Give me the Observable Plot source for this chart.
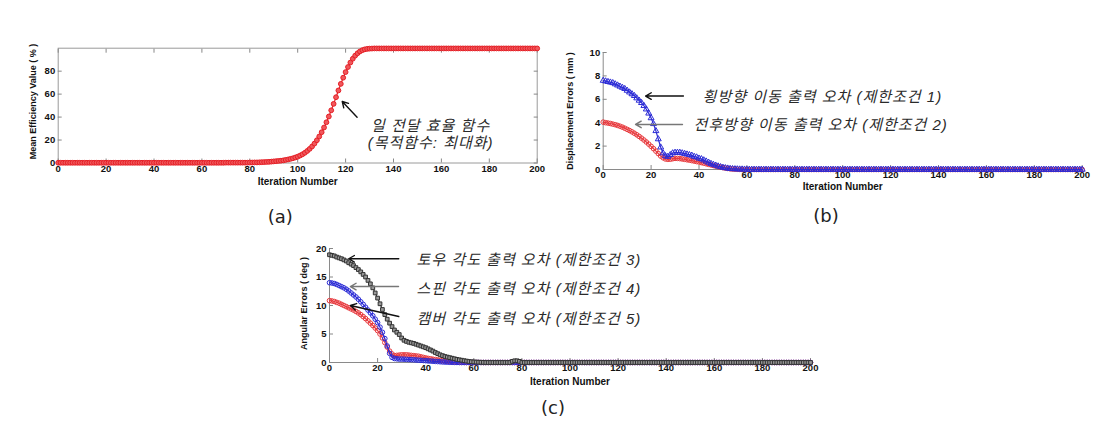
<!DOCTYPE html>
<html><head><meta charset="utf-8">
<script src="https://cdn.jsdelivr.net/npm/d3@7"></script>
<script src="https://cdn.jsdelivr.net/npm/@observablehq/plot@0.6"></script>
<style>
body{margin:0;background:#fff;}
#wrap{position:relative;width:1114px;height:424px;overflow:hidden;background:#fff;}
.cap{position:absolute;font-family:"DejaVu Sans",sans-serif;font-size:18px;color:#222;transform:translate(-50%,-50%);line-height:1;}
</style></head><body><div id="wrap"></div>
<script>
// ---------- data ----------
const iterations = d3.range(0, 201);
const xTicks = [0,20,40,60,80,100,120,140,160,180,200];
const yTicksA = [0,20,40,60,80];
const yTicksB = [0,2,4,6,8,10];
const yTicksC = [0,5,10,15,20];

// (a) mean efficiency (%)
const efficiency = [
0.2,0.2,0.2,0.2,0.2,0.2,0.2,0.2,0.2,0.2,
0.2,0.2,0.2,0.2,0.2,0.2,0.2,0.2,0.2,0.2,
0.2,0.2,0.2,0.2,0.2,0.2,0.2,0.2,0.2,0.2,
0.2,0.2,0.2,0.2,0.2,0.2,0.2,0.2,0.2,0.2,
0.2,0.2,0.2,0.2,0.2,0.2,0.2,0.2,0.2,0.2,
0.2,0.2,0.2,0.2,0.2,0.2,0.2,0.2,0.2,0.2,
0.2,0.2,0.2,0.2,0.2,0.2,0.2,0.2,0.2,0.2,
0.3,0.3,0.3,0.3,0.3,0.3,0.3,0.3,0.3,0.3,
0.4,0.4,0.5,0.5,0.6,0.7,0.8,0.9,1.0,1.2,
1.4,1.6,1.8,2.0,2.3,2.7,3.1,3.6,4.1,4.8,
5.5,6.5,7.6,8.9,10.5,12.3,14.4,16.9,19.8,23.1,
26.8,30.9,35.5,40.5,45.9,51.5,57.3,63.2,68.9,74.3,
79.2,83.6,87.5,90.8,93.5,95.6,97.2,98.3,99.0,99.4,
99.6,99.7,99.8,99.8,99.8,99.8,99.8,99.8,99.8,99.8,
99.8,99.8,99.8,99.8,99.8,99.8,99.8,99.8,99.8,99.8,
99.8,99.8,99.8,99.8,99.8,99.8,99.8,99.8,99.8,99.8,
99.8,99.8,99.8,99.8,99.8,99.8,99.8,99.8,99.8,99.8,
99.8,99.8,99.8,99.8,99.8,99.8,99.8,99.8,99.8,99.8,
99.8,99.8,99.8,99.8,99.8,99.8,99.8,99.8,99.8,99.8,
99.8,99.8,99.8,99.8,99.8,99.8,99.8,99.8,99.8,99.8,
99.8];

// (b) displacement errors (mm)
const lateralDisp = [
7.6,7.55,7.5,7.45,7.4,7.3,7.2,7.1,7.0,6.9,
6.75,6.6,6.45,6.3,6.1,5.9,5.7,5.45,5.15,4.8,
4.4,3.9,3.3,2.6,1.9,1.4,1.15,1.1,1.25,1.4,
1.45,1.45,1.45,1.4,1.35,1.3,1.25,1.2,1.1,1.05,
0.95,0.9,0.8,0.7,0.6,0.5,0.42,0.35,0.28,0.22,
0.17,0.13,0.1,0.07,0.05,0.04,0.03,0.02,0.02,0.01,
0,0,0,0,0,0,0,0,0,0,
0,0,0,0,0,0,0,0,0,0,
0,0,0,0,0,0,0,0,0,0,
0,0,0,0,0,0,0,0,0,0,
0,0,0,0,0,0,0,0,0,0,
0,0,0,0,0,0,0,0,0,0,
0,0,0,0,0,0,0,0,0,0,
0,0,0,0,0,0,0,0,0,0,
0,0,0,0,0,0,0,0,0,0,
0,0,0,0,0,0,0,0,0,0,
0,0,0,0,0,0,0,0,0,0,
0,0,0,0,0,0,0,0,0,0,
0,0,0,0,0,0,0,0,0,0,
0,0,0,0,0,0,0,0,0,0,
0];
const longDisp = [
4.05,4.0,3.97,3.93,3.88,3.83,3.77,3.7,3.62,3.53,
3.43,3.33,3.22,3.1,2.97,2.83,2.68,2.52,2.35,2.17,
1.98,1.78,1.57,1.36,1.15,1.0,0.9,0.87,0.88,0.92,
0.95,0.95,0.93,0.9,0.87,0.83,0.8,0.76,0.72,0.68,
0.64,0.59,0.54,0.49,0.44,0.39,0.34,0.29,0.24,0.2,
0.16,0.12,0.09,0.06,0.04,0.03,0.02,0.01,0,0,
0,0,0,0,0,0,0,0,0,0,
0,0,0,0,0,0,0,0,0,0,
0,0,0,0,0,0,0,0,0,0,
0,0,0,0,0,0,0,0,0,0,
0,0,0,0,0,0,0,0,0,0,
0,0,0,0,0,0,0,0,0,0,
0,0,0,0,0,0,0,0,0,0,
0,0,0,0,0,0,0,0,0,0,
0,0,0,0,0,0,0,0,0,0,
0,0,0,0,0,0,0,0,0,0,
0,0,0,0,0,0,0,0,0,0,
0,0,0,0,0,0,0,0,0,0,
0,0,0,0,0,0,0,0,0,0,
0,0,0,0,0,0,0,0,0,0,
0];

// (c) angular errors (deg)
const toeErr = [
18.9,18.8,18.7,18.5,18.35,18.2,18.0,17.8,17.5,17.25,
17.0,16.65,16.3,15.9,15.45,15.0,14.4,13.8,13.1,12.2,
11.3,10.3,9.3,8.4,7.6,6.9,6.3,5.7,5.3,4.9,
4.3,3.9,3.7,3.55,3.45,3.35,3.2,3.05,2.9,2.75,
2.6,2.4,2.2,2.0,1.75,1.55,1.35,1.2,1.05,0.95,
0.85,0.75,0.65,0.55,0.47,0.4,0.32,0.25,0.18,0.13,
0.1,0.07,0.05,0.03,0.02,0,0,0,0,0,
0,0,0,0,0,0,0.2,0.3,0.3,0.2,
0,0,0,0,0,0,0,0,0,0,
0,0,0,0,0,0,0,0,0,0,
0,0,0,0,0,0,0,0,0,0,
0,0,0,0,0,0,0,0,0,0,
0,0,0,0,0,0,0,0,0,0,
0,0,0,0,0,0,0,0,0,0,
0,0,0,0,0,0,0,0,0,0,
0,0,0,0,0,0,0,0,0,0,
0,0,0,0,0,0,0,0,0,0,
0,0,0,0,0,0,0,0,0,0,
0,0,0,0,0,0,0,0,0,0,
0,0,0,0,0,0,0,0,0,0,
0];
const spinErr = [
14.0,13.95,13.85,13.7,13.5,13.3,13.1,12.85,12.55,12.2,
11.85,11.5,11.1,10.65,10.2,9.7,9.2,8.7,8.2,7.6,
7.0,6.2,5.3,4.2,2.9,1.6,0.9,0.7,0.65,0.6,
0.6,0.58,0.55,0.52,0.5,0.47,0.44,0.41,0.38,0.35,
0.32,0.28,0.25,0.22,0.19,0.16,0.13,0.1,0.08,0.06,
0.04,0.03,0.02,0.01,0,0,0,0,0,0,
0,0,0,0,0,0,0,0,0,0,
0,0,0,0,0,0,0,0,0,0,
0,0,0,0,0,0,0,0,0,0,
0,0,0,0,0,0,0,0,0,0,
0,0,0,0,0,0,0,0,0,0,
0,0,0,0,0,0,0,0,0,0,
0,0,0,0,0,0,0,0,0,0,
0,0,0,0,0,0,0,0,0,0,
0,0,0,0,0,0,0,0,0,0,
0,0,0,0,0,0,0,0,0,0,
0,0,0,0,0,0,0,0,0,0,
0,0,0,0,0,0,0,0,0,0,
0,0,0,0,0,0,0,0,0,0,
0,0,0,0,0,0,0,0,0,0,
0];
const camberErr = [
10.85,10.8,10.7,10.55,10.4,10.2,10.0,9.8,9.6,9.4,
9.2,8.95,8.7,8.4,8.05,7.7,7.3,6.9,6.5,6.05,
5.6,5.0,4.3,3.5,2.7,2.0,1.5,1.2,1.25,1.3,
1.35,1.35,1.35,1.3,1.25,1.2,1.15,1.1,1.0,0.9,
0.8,0.72,0.65,0.58,0.52,0.45,0.38,0.32,0.26,0.21,
0.16,0.12,0.09,0.06,0.04,0.02,0.01,0,0,0,
0,0,0,0,0,0,0,0,0,0,
0,0,0,0,0,0,0,0,0,0,
0,0,0,0,0,0,0,0,0,0,
0,0,0,0,0,0,0,0,0,0,
0,0,0,0,0,0,0,0,0,0,
0,0,0,0,0,0,0,0,0,0,
0,0,0,0,0,0,0,0,0,0,
0,0,0,0,0,0,0,0,0,0,
0,0,0,0,0,0,0,0,0,0,
0,0,0,0,0,0,0,0,0,0,
0,0,0,0,0,0,0,0,0,0,
0,0,0,0,0,0,0,0,0,0,
0,0,0,0,0,0,0,0,0,0,
0,0,0,0,0,0,0,0,0,0,
0];

// annotation texts (Korean) and their anchor points in data units
const notesA = [
  {x:155.5, y:25.4, t:"일 전달 효율 함수\n(목적함수: 최대화)"}
];
const arrowsA = [{x1:124.8, y1:39.9, x2:118.6, y2:53.6, c:"#111"}];
const notesB = [
  {x:41.5, y:6.24, t:"횡방향 이동 출력 오차 (제한조건 1)"},
  {x:37.7, y:3.85, t:"전후방향 이동 출력 오차 (제한조건 2)"}
];
const arrowsB = [
  {x1:33.5, y1:6.28, x2:17.7, y2:6.28, c:"#111"},
  {x1:33.1, y1:3.85, x2:13.5, y2:3.85, c:"#777"}
];
const notesC = [
  {x:36.2, y:18.07, t:"토우 각도 출력 오차 (제한조건 3)"},
  {x:36.2, y:12.98, t:"스핀 각도 출력 오차 (제한조건 4)"},
  {x:36.2, y:7.72, t:"캠버 각도 출력 오차 (제한조건 5)"}
];
const arrowsC = [
  {x1:28.8, y1:18.2, x2:8.0, y2:18.2, c:"#111"},
  {x1:28.7, y1:13.33, x2:8.7, y2:13.33, c:"#777"},
  {x1:28.8, y1:8.07, x2:8.7, y2:10.0, c:"#111"}
];
const captions = ["(a)", "(b)", "(c)"];

// ---------- drawing ----------
const rows = vals => vals.map((v, k) => ({i: iterations[k], v}));
const wrap = document.getElementById("wrap");
const FONT = "'Liberation Sans', Arial, sans-serif";

function panel(cfg) {
  const marks = [];
  if (cfg.box) {
    marks.push(Plot.frame({stroke: "#9a9a9a"}));
    marks.push(Plot.axisX({anchor: "top", ticks: xTicks, tickSize: -4, tickFormat: () => "", label: null, stroke: "#888"}));
    marks.push(Plot.axisY({anchor: "right", ticks: cfg.yTicks, tickSize: -4, tickFormat: () => "", label: null, stroke: "#888"}));
  } else {
    marks.push(Plot.ruleX([0], {stroke: "#8a8a8a"}));
    marks.push(Plot.ruleY([0], {stroke: "#8a8a8a"}));
  }
  marks.push(Plot.axisX({ticks: xTicks, tickSize: -4, tickPadding: 6, label: null, stroke: "#888", fill: "#111"}));
  marks.push(Plot.axisY({ticks: cfg.yTicks, tickSize: -4, tickPadding: 7, label: null, stroke: "#888", fill: "#111"}));
  marks.push(Plot.text([cfg.yLabel], {text: d => d, frameAnchor: "left", textAnchor: "middle", dx: cfg.yLabelDx, dy: cfg.yLabelDy || 0, rotate: -90, fontSize: 9, fontWeight: "bold", fill: "#111"}));
  marks.push(Plot.text(["Iteration Number"], {text: d => d, frameAnchor: "bottom", textAnchor: "middle", dy: cfg.xLabelDy, fontSize: 10, fontWeight: "bold", fill: "#111"}));
  for (const s of cfg.series) {
    const data = rows(s.values);
    marks.push(Plot.line(data, {x: "i", y: "v", stroke: s.color, strokeWidth: 1.2}));
    marks.push(Plot.dot(data, {x: "i", y: "v", stroke: s.color, fill: s.fill || "none", r: s.r || 2.4, symbol: s.symbol || "circle", strokeWidth: 1}));
  }
  for (const a of cfg.arrows) {
    marks.push(Plot.arrow([a], {x1: "x1", y1: "y1", x2: "x2", y2: "y2", stroke: a.c, strokeWidth: 1.4, headLength: 7}));
  }
  marks.push(Plot.text(cfg.notes, {x: "x", y: "y", text: "t", textAnchor: cfg.noteAnchor, lineHeight: 1.15, fontFamily: "'Liberation Sans', 'Noto Sans CJK KR', sans-serif", fontStyle: "italic", fontWeight: "normal", fontSize: 15, fill: "#2a2a2a"}));

  const svg = Plot.plot({
    width: cfg.width, height: cfg.height,
    marginLeft: cfg.m[3], marginRight: cfg.m[1], marginTop: cfg.m[0], marginBottom: cfg.m[2],
    x: {domain: [0, 200], label: null},
    y: {domain: cfg.yDomain, label: null},
    style: {fontFamily: FONT, fontWeight: "bold", fontSize: "9.5px", color: "#111", background: "transparent", overflow: "visible"},
    marks
  });
  svg.querySelectorAll('g[font-style="italic"]').forEach(g => g.style.letterSpacing = "1px");
  svg.style.position = "absolute";
  svg.style.left = cfg.left + "px";
  svg.style.top = cfg.top + "px";
  svg.style.maxWidth = "none";
  wrap.appendChild(svg);
}

panel({
  left: 0, top: 0, width: 560, height: 200, m: [47.7, 23.3, 37.5, 57.7],
  yDomain: [0, 100], yTicks: yTicksA, box: true,
  yLabel: "Mean Efficiency Value ( % )", yLabelDx: -25, yLabelDy: -4, xLabelDy: 22,
  series: [{values: efficiency, color: "#e51e25", fill: "#f0585c"}],
  notes: notesA, noteAnchor: "middle", arrows: arrowsA
});
panel({
  left: 560, top: 0, width: 550, height: 200, m: [52, 28.3, 31, 42.7],
  yDomain: [0, 10], yTicks: yTicksB, box: false,
  yLabel: "Displacement Errors ( mm )", yLabelDx: -32.7, xLabelDy: 20.5,
  series: [
    {values: longDisp, color: "#e8383c", r: 2.3},
    {values: lateralDisp, color: "#2b2bd6", symbol: "triangle", r: 2.2}
  ],
  notes: notesB, noteAnchor: "start", arrows: arrowsB
});
panel({
  left: 280, top: 200, width: 550, height: 200, m: [48, 20, 38, 49],
  yDomain: [0, 20], yTicks: yTicksC, box: false,
  yLabel: "Angular Errors ( deg )", yLabelDx: -25.7, yLabelDy: -2, xLabelDy: 22,
  series: [
    {values: camberErr, color: "#e8383c", r: 2.3},
    {values: spinErr, color: "#2b2bd6", r: 2.3},
    {values: toeErr, color: "#333333", fill: "#999", symbol: "square", r: 2.1}
  ],
  notes: notesC, noteAnchor: "start", arrows: arrowsC
});

const capPos = [[280.3, 216.7], [826, 216], [553, 408]];
captions.forEach((c, k) => {
  const d = document.createElement("div");
  d.className = "cap";
  d.textContent = c;
  d.style.left = capPos[k][0] + "px";
  d.style.top = capPos[k][1] + "px";
  wrap.appendChild(d);
});
</script>
</body></html>
